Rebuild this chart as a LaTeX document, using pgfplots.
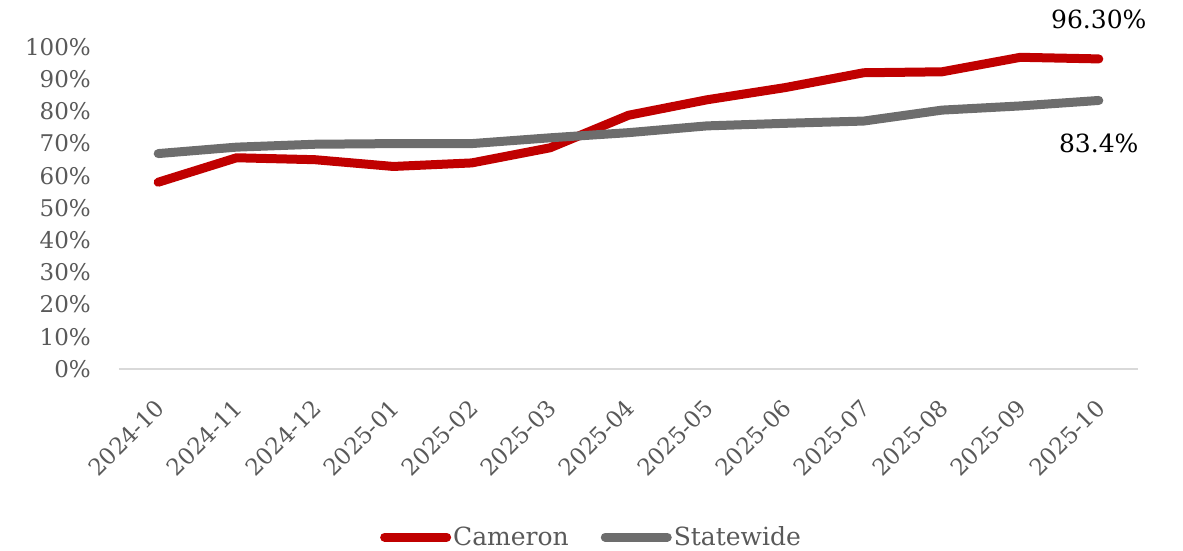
\documentclass[border=0pt]{standalone}
\usepackage{pgfplots}
\pgfplotsset{compat=1.18}
\usepackage{fontspec}
\setmainfont{DejaVu Serif}
\definecolor{camred}{HTML}{C00000}
\definecolor{stgray}{HTML}{6D6D6D}
\definecolor{txtgray}{HTML}{595959}
\definecolor{axgray}{HTML}{D9D9D9}
\begin{document}
\begin{tikzpicture}
\useasboundingbox (-119bp,-182bp) rectangle (1064bp,369bp);
\begin{axis}[
  scale only axis, width=1019bp, height=322bp,
  at={(0,0)}, anchor=south west,
  xmin=-0.5, xmax=12.5, ymin=0, ymax=100,
  axis line style={draw=none},
  major tick length=0pt,
  xtick={0,...,12},
  xticklabels={2024-10,2024-11,2024-12,2025-01,2025-02,2025-03,2025-04,2025-05,2025-06,2025-07,2025-08,2025-09,2025-10},
  ytick={0,10,...,100},
  yticklabels={0\%,10\%,20\%,30\%,40\%,50\%,60\%,70\%,80\%,90\%,100\%},
  /pgf/number format/assume math mode=true,
  tick label style={font=\fontsize{23bp}{27bp}\selectfont, text=txtgray},
  xticklabel style={yshift=-35bp, xshift=2bp, rotate=45, anchor=east, inner sep=0pt},
  yticklabel style={anchor=east, inner sep=0pt, xshift=-28bp},
  clip=false,
  legend columns=2,
  legend style={at={(0.4637,-0.522)}, anchor=center, draw=none, fill=none,
    font=\fontsize{25bp}{30bp}\selectfont, text=txtgray,
    /tikz/every even column/.append style={column sep=30bp}},
  legend cell align=left,
  legend image code/.code={\draw[#1, line cap=round] (0bp,0bp) -- (62bp,0bp);},
]
\addplot[camred, line width=9bp, line cap=round, line join=round] coordinates {
  (0,58.0) (1,65.6) (2,65.0) (3,62.9) (4,64.0) (5,68.7) (6,78.8)
  (7,83.6) (8,87.4) (9,92.0) (10,92.3) (11,96.8) (12,96.3)};
\addlegendentry{Cameron}
\addplot[stgray, line width=9bp, line cap=round, line join=round] coordinates {
  (0,66.9) (1,68.9) (2,69.8) (3,70.0) (4,70.0) (5,71.8) (6,73.4)
  (7,75.5) (8,76.3) (9,77.0) (10,80.4) (11,81.7) (12,83.4)};
\addlegendentry{Statewide}
\draw[axgray, line width=1.5bp] (axis cs:-0.5,0) -- (axis cs:12.5,0);
\node[font=\fontsize{25bp}{30bp}\selectfont, text=black] at (axis cs:12,96.3) [yshift=40bp] {96.30\%};
\node[font=\fontsize{25bp}{30bp}\selectfont, text=black] at (axis cs:12,83.4) [yshift=-43bp] {83.4\%};
\end{axis}
\end{tikzpicture}
\end{document}
